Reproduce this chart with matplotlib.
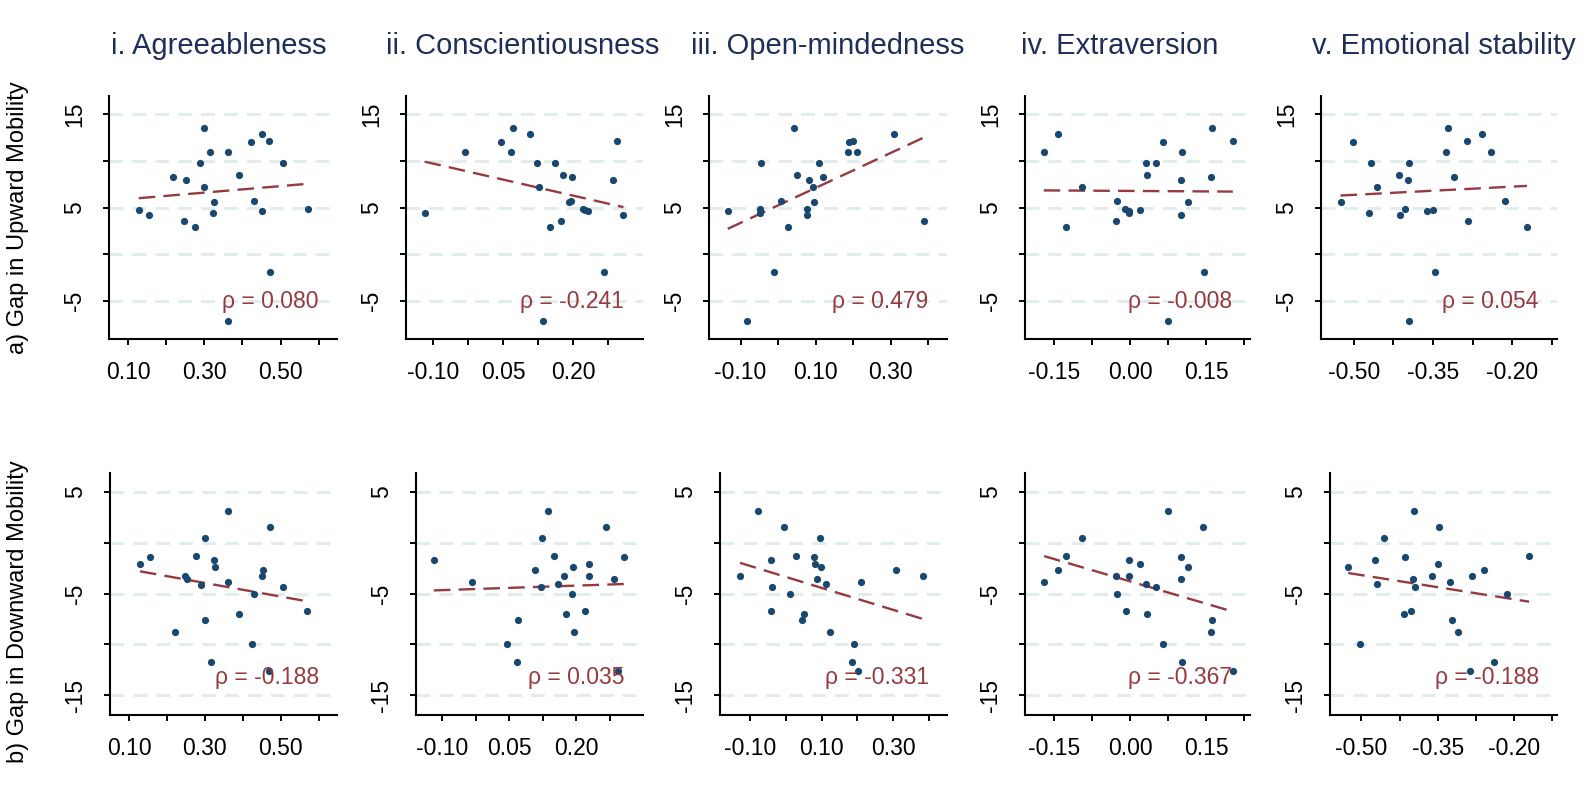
import numpy as np
import matplotlib
matplotlib.use("Agg")
import matplotlib.pyplot as plt

plt.rcParams['font.family'] = ['Liberation Sans', 'DejaVu Sans']

# trait scores (x) and mobility gaps (y), one pair of lists per panel
up_agree_x = [0.128, 0.154, 0.218, 0.252, 0.248, 0.276, 0.288, 0.299, 0.299, 0.316, 0.326, 0.322,
              0.361, 0.361, 0.390, 0.423, 0.429, 0.452, 0.450, 0.470, 0.472, 0.506, 0.571]
up_agree_y = [4.75, 4.18, 8.29, 7.96, 3.54, 2.86, 9.82, 13.57, 7.25, 10.96, 5.61, 4.36,
              10.96, -7.18, 8.46, 12.04, 5.68, 12.93, 4.64, 12.18, -1.89, 9.82, 4.86]

up_consc_x = [-0.119, -0.033, 0.046, 0.067, 0.070, 0.108, 0.123, 0.126, 0.136, 0.151, 0.160, 0.174,
              0.179, 0.192, 0.195, 0.197, 0.221, 0.226, 0.231, 0.267, 0.286, 0.295, 0.308]
up_consc_y = [4.39, 10.96, 12.04, 10.96, 13.57, 12.93, 9.82, 7.25, -7.18, 2.86, 9.82, 3.54,
              8.46, 5.61, 5.68, 8.29, 4.86, 4.75, 4.64, -1.89, 7.96, 12.18, 4.18]

up_open_x = [-0.134, -0.084, -0.045, -0.047, -0.047, -0.010, 0.008, 0.026, 0.043, 0.050, 0.078, 0.077,
             0.082, 0.092, 0.097, 0.108, 0.121, 0.185, 0.188, 0.200, 0.211, 0.309, 0.388]
up_open_y = [4.68, -7.18, 9.82, 4.86, 4.36, -1.89, 5.68, 2.86, 13.57, 8.46, 4.86, 4.18,
             7.96, 7.25, 5.61, 9.82, 8.29, 10.96, 12.04, 12.18, 10.96, 12.93, 3.54]

up_extra_x = [-0.171, -0.143, -0.126, -0.096, -0.029, -0.026, -0.011, -0.003, -0.003, 0.020, 0.032, 0.033,
              0.052, 0.065, 0.074, 0.102, 0.101, 0.100, 0.114, 0.146, 0.159, 0.162, 0.203]
up_extra_y = [10.96, 12.93, 2.86, 7.25, 3.54, 5.68, 4.86, 4.64, 4.36, 4.75, 9.82, 8.46,
              9.82, 12.04, -7.18, 10.96, 7.96, 4.18, 5.61, -1.89, 8.29, 13.57, 12.18]

up_emo_x = [-0.525, -0.501, -0.472, -0.468, -0.455, -0.415, -0.413, -0.397, -0.403, -0.395, -0.395, -0.362,
            -0.349, -0.347, -0.325, -0.321, -0.310, -0.285, -0.283, -0.258, -0.240, -0.213, -0.172]
up_emo_y = [5.61, 12.04, 4.36, 9.82, 7.25, 8.46, 4.18, 7.96, 4.86, -7.18, 9.82, 4.64,
            4.75, -1.89, 10.96, 13.57, 8.29, 12.18, 3.54, 12.93, 10.96, 5.68, 2.86]

down_agree_x = [0.129, 0.155, 0.220, 0.248, 0.254, 0.277, 0.289, 0.299, 0.299, 0.324, 0.326, 0.317,
                0.361, 0.361, 0.390, 0.423, 0.429, 0.452, 0.450, 0.472, 0.468, 0.505, 0.570]
down_agree_y = [-2.06, -1.40, -8.79, -3.24, -3.51, -1.34, -4.13, 0.44, -7.58, -1.73, -2.42, -11.75,
                3.10, -3.90, -7.02, -9.91, -5.08, -2.68, -3.24, 1.55, -12.64, -4.33, -6.66]

down_consc_x = [-0.119, -0.033, 0.046, 0.069, 0.067, 0.108, 0.122, 0.124, 0.136, 0.151, 0.159, 0.172,
                0.177, 0.192, 0.191, 0.196, 0.220, 0.230, 0.230, 0.266, 0.285, 0.293, 0.307]
down_consc_y = [-1.73, -3.90, -9.91, -7.58, -11.75, -2.68, -4.33, 0.44, 3.10, -1.34, -4.10, -3.28,
                -7.02, -2.42, -5.08, -8.79, -6.66, -2.06, -3.24, 1.55, -3.51, -12.64, -1.40]

down_open_x = [-0.128, -0.078, -0.042, -0.040, -0.041, -0.005, 0.012, 0.029, 0.046, 0.052, 0.079, 0.081,
               0.086, 0.094, 0.098, 0.111, 0.122, 0.189, 0.186, 0.201, 0.211, 0.307, 0.384]
down_open_y = [-3.24, 3.10, -1.73, -4.33, -6.66, 1.55, -5.08, -1.34, -7.58, -7.02, -1.40, -2.06,
               -3.51, 0.44, -2.42, -4.10, -8.79, -9.91, -11.75, -12.64, -3.90, -2.68, -3.24]

down_extra_x = [-0.170, -0.142, -0.126, -0.096, -0.029, -0.026, -0.009, -0.003, -0.003, 0.020, 0.032, 0.033,
                0.052, 0.064, 0.074, 0.101, 0.101, 0.102, 0.114, 0.145, 0.161, 0.159, 0.203]
down_extra_y = [-3.90, -2.68, -1.34, 0.44, -3.24, -5.08, -6.66, -1.73, -3.24, -2.06, -4.10, -7.02,
                -4.33, -9.91, 3.10, -1.40, -3.51, -11.75, -2.42, 1.55, -7.58, -8.79, -12.64]

down_emo_x = [-0.526, -0.503, -0.474, -0.470, -0.456, -0.416, -0.414, -0.403, -0.398, -0.395, -0.396, -0.362,
              -0.350, -0.347, -0.325, -0.321, -0.310, -0.286, -0.282, -0.258, -0.240, -0.213, -0.170]
down_emo_y = [-2.42, -9.91, -1.73, -4.10, 0.44, -7.02, -1.40, -6.66, -3.51, -4.33, 3.10, -3.24,
              -2.06, 1.55, -3.90, -7.58, -8.79, -12.64, -3.24, -2.68, -11.75, -5.08, -1.34]

traits = ["i. Agreeableness", "ii. Conscientiousness", "iii. Open-mindedness",
          "iv. Extraversion", "v. Emotional stability"]
row_labels = ["a) Gap in Upward Mobility", "b) Gap in Downward Mobility"]
rho_up = ["0.080", "-0.241", "0.479", "-0.008", "0.054"]
rho_down = ["-0.188", "0.035", "-0.331", "-0.367", "-0.188"]

xticks_all = [[0.10, 0.20, 0.30, 0.40, 0.50, 0.60],
              [-0.10, -0.025, 0.05, 0.125, 0.20, 0.275],
              [-0.10, 0.0, 0.10, 0.20, 0.30, 0.40],
              [-0.15, -0.075, 0.00, 0.075, 0.15, 0.225],
              [-0.50, -0.425, -0.35, -0.275, -0.20, -0.125]]
xticklabels_all = [["0.10", "", "0.30", "", "0.50", ""],
                   ["-0.10", "", "0.05", "", "0.20", ""],
                   ["-0.10", "", "0.10", "", "0.30", ""],
                   ["-0.15", "", "0.00", "", "0.15", ""],
                   ["-0.50", "", "-0.35", "", "-0.20", ""]]
xlims = [(0.05, 0.648), (-0.159, 0.35), (-0.184, 0.45), (-0.208, 0.237), (-0.562, -0.115)]

up_yticks = [-5, 0, 5, 10, 15]
up_yticklabels = ["-5", "", "5", "", "15"]
down_yticks = [-15, -10, -5, 0, 5]
down_yticklabels = ["-15", "", "-5", "", "5"]

up_x = [up_agree_x, up_consc_x, up_open_x, up_extra_x, up_emo_x]
up_y = [up_agree_y, up_consc_y, up_open_y, up_extra_y, up_emo_y]
down_x = [down_agree_x, down_consc_x, down_open_x, down_extra_x, down_emo_x]
down_y = [down_agree_y, down_consc_y, down_open_y, down_extra_y, down_emo_y]

DOT = '#1a476f'
FIT = '#963a40'
GRID = '#e3eced'
TITLE = '#1f2d5a'

W, H = 1587, 786
fig = plt.figure(figsize=(W / 100, H / 100), dpi=100)


def px_axes(x0, x1, y0, y1):
    # pixel box (left, right, top, bottom) -> figure axes
    return fig.add_axes([x0 / W, 1 - y1 / H, (x1 - x0) / W, (y1 - y0) / H])


top_boxes = [(109, 337), (406, 643), (709, 947), (1025, 1250), (1321, 1557)]
bot_boxes = [(110, 337), (416, 643), (720, 947), (1025, 1250), (1330, 1557)]


def draw_panel(ax, xs, ys, col, yticks, yticklabels, ylim, rho):
    xs = np.asarray(xs)
    ys = np.asarray(ys)
    for yt in yticks:
        ax.axhline(yt, color=GRID, lw=2.2, dashes=(4.5, 3), zorder=0)
    # least-squares line over the observed range
    slope, icpt = np.polyfit(xs, ys, 1)
    fx = np.array([xs.min(), xs.max()])
    ax.plot(fx, icpt + slope * fx, color=FIT, lw=1.7, dashes=(7, 3.5), zorder=2)
    ax.plot(xs, ys, 'o', color=DOT, ms=5.2, mec='none', zorder=3)
    ax.set_xlim(*xlims[col])
    ax.set_ylim(*ylim)
    ax.set_xticks(xticks_all[col])
    ax.set_xticklabels(xticklabels_all[col])
    ax.set_yticks(yticks)
    ax.set_yticklabels(yticklabels, rotation=90, va='center')
    for s in ['top', 'right']:
        ax.spines[s].set_visible(False)
    for s in ['left', 'bottom']:
        ax.spines[s].set_linewidth(1.5)
    ax.tick_params(axis='both', direction='out', length=4.5, width=1.4, labelsize=16.5)
    ax.tick_params(axis='y', pad=12)
    ax.tick_params(axis='x', pad=11)
    ax.text(0.92, 0.155, "\u03c1 = " + rho, transform=ax.transAxes, ha='right', va='center',
            color=FIT, fontsize=16.5, zorder=4)


for i in range(5):
    ax = px_axes(top_boxes[i][0], top_boxes[i][1], 96, 339)
    draw_panel(ax, up_x[i], up_y[i], i, up_yticks, up_yticklabels, (-9.1, 16.96), rho_up[i])
    ax = px_axes(bot_boxes[i][0], bot_boxes[i][1], 473, 715)
    draw_panel(ax, down_x[i], down_y[i], i, down_yticks, down_yticklabels, (-16.94, 6.87), rho_down[i])

title_cx = [219, 523, 828, 1120, 1444]
for i, t in enumerate(traits):
    fig.text(title_cx[i] / W, 1 - 46 / H, t, ha='center', va='center', fontsize=21, color=TITLE)

fig.text(18 / W, 1 - 218 / H, row_labels[0], rotation=90, ha='center', va='center', fontsize=17)
fig.text(18 / W, 1 - 612 / H, row_labels[1], rotation=90, ha='center', va='center', fontsize=17)

fig.savefig("out.png", dpi=100, facecolor='white')
